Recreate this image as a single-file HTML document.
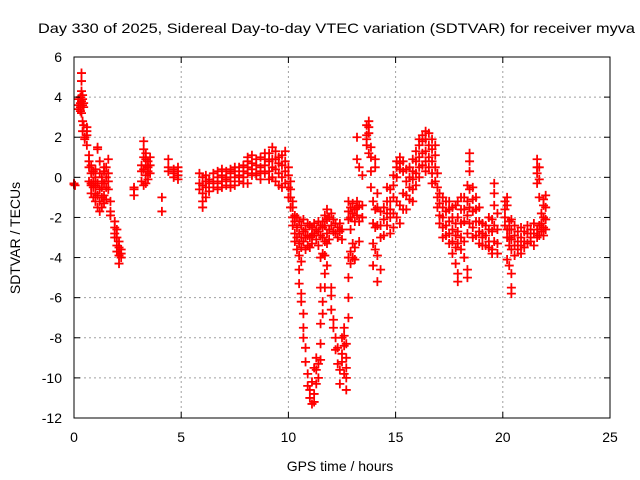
<!DOCTYPE html>
<html><head><meta charset="utf-8"><style>
body{margin:0;background:#fff}
svg{display:block;font-family:"Liberation Sans",sans-serif}
</style></head><body>
<svg id="chart" width="640" height="480" viewBox="0 0 640 480">
<rect width="640" height="480" fill="#fff"/>
<text x="38" y="33" font-size="14" textLength="597" lengthAdjust="spacingAndGlyphs">Day 330 of 2025, Sidereal Day-to-day VTEC variation (SDTVAR) for receiver myva</text>
<g id="grid"></g>
<g id="marks"></g>
<rect x="74" y="57" width="536" height="361" fill="none" stroke="#000" stroke-width="1"/>
<g id="axes"></g>
<text x="340" y="471" font-size="14" text-anchor="middle">GPS time / hours</text>
<text transform="translate(20,238) rotate(-90)" font-size="14" text-anchor="middle">SDTVAR / TECUs</text>
</svg>
<script>
const xTicks=[0,5,10,15,20,25];
const yTicks=[6,4,2,0,-2,-4,-6,-8,-10,-12];
const obs=[
[0.0,[-0.35,-0.3]],[0.05,[-0.4]],
[0.2,[3.9,3.4,3.6]],[0.3,[3.7,4.0,3.3,3.5]],[0.35,[4.3,4.8,5.2,3.8,3.2]],[0.4,[3.6,3.9,4.1,2.8,2.3]],[0.45,[3.5,3.7,2.6]],[0.5,[2.0,1.9]],
[0.6,[2.3,2.5,2.1,1.6]],[0.7,[1.1,0.8,0.5,-0.2]],[0.8,[0.2,-0.3,-0.8,-0.4,0.6]],[0.9,[0.3,-0.5,-1.0,-0.2]],[1.0,[0.4,-0.4,-1.2,-0.8,0]],
[1.1,[1.4,1.5,-0.3,-1.5,-0.9]],[1.2,[0.8,0.2,-0.6,-1.7,-1.2]],[1.3,[0,-0.5,-1.0,-1.5,-0.2]],[1.4,[0.5,-0.3,-0.9,-1.3,0.3]],[1.5,[0,-0.5,-1.1,0.5]],
[1.6,[-0.2,-0.6,0.2,0.9]],[1.7,[-1.7,-1.9,-1.2]],[1.9,[-2.5,-2.8,-3.0,-2.2]],[2.0,[-3.0,-3.4,-3.7,-2.6]],[2.1,[-3.5,-3.9,-4.3,-3.2]],[2.2,[-3.8,-3.6,-4.0]],
[2.8,[-0.5,-0.9,-0.6]],[3.15,[-0.2,0.3,0.6]],[3.25,[1.0,1.4,1.8,0.4,-0.4]],[3.35,[0.6,0.1,-0.3,0.9,1.2]],[3.45,[0.8,0.3,-0.1,0.5]],[3.55,[0.6,1.0,0.2]],
[4.1,[-1.0,-1.7]],[4.4,[0.9,0.5,0.3]],[4.65,[0.2,0,0.4]],[4.85,[0.1,0.5,-0.1,0.3]],
[5.85,[0.2,-0.3,-0.6]],[6.0,[-0.4,-0.8,-1.2,-1.5,0]],[6.15,[-0.5,-1.0,-0.2,0.1]],[6.3,[-0.3,-0.7,-0.1]],[6.5,[-0.2,0.2,-0.5]],
[6.7,[0,0.3,-0.3,-0.6]],[6.9,[0.1,0.4,-0.2,-0.5]],[7.1,[0,0.3,-0.4,-0.1]],[7.3,[0.2,-0.2,0.4,-0.5]],[7.5,[0.3,0,-0.4,0.5]],
[7.7,[0.1,0.5,-0.2]],[7.9,[0.3,0.6,0,-0.3]],[8.1,[0.5,0.8,0.2,1.0,-0.3]],[8.3,[0.4,0.7,1.1,0.1]],[8.5,[0.2,0.6,0.9,0.1]],
[8.7,[0.5,1.0,0.3,-0.1]],[8.9,[0.6,1.2,0.2,0.9]],[9.1,[0.3,0.8,1.2,-0.1]],[9.25,[1.5,0.9,0.5,0]],[9.4,[0.4,0.9,1.3,-0.2]],
[9.55,[0.2,0.7,1.0,-0.4]],[9.7,[0.6,1.1,0,-0.5]],[9.85,[0.8,1.3,0.3,-0.3]],[10.0,[0.5,0.1,-0.5,-1.0]],[10.1,[-0.6,-1.0,-1.5,-0.2]],
[10.2,[-1.5,-2.0,-2.4,-1.2]],[10.3,[-2.2,-2.8,-3.2,-1.9]],[10.4,[-2.5,-3.0,-3.6,-2.0]],[10.5,[-2.2,-2.8,-3.3,-3.9,-4.6,-5.3]],
[10.6,[-2.4,-3.0,-3.5,-4.2,-5.8,-6.2]],[10.7,[-2.7,-3.2,-2.1,-6.8,-7.5,-8.0]],[10.8,[-2.6,-3.0,-3.6,-8.5,-9.2]],[10.9,[-2.3,-2.9,-3.4,-9.8,-10.4]],
[11.0,[-2.4,-3.0,-3.5,-10.6,-11.0]],[11.1,[-2.5,-2.9,-3.3,-10.2,-11.3]],[11.2,[-2.3,-2.8,-9.5,-10.8,-11.2]],[11.3,[-2.6,-3.1,-9.0,-9.6,-10.3]],
[11.4,[-2.2,-2.7,-3.4,-9.3,-10.0]],[11.5,[-2.4,-2.9,-4.0,-5.5,-7.3,-8.3,-9.1]],[11.6,[-2.2,-2.5,-3.0,-3.8,-6.2,-6.8]],[11.7,[-1.9,-2.4,-3.2,-3.9,-4.8,-5.5]],
[11.8,[-1.6,-2.1,-2.8,-3.3,-4.4]],[11.9,[-2.0,-2.6,-3.1]],[12.0,[-1.8,-2.4,-5.5,-5.9,-6.6]],[12.1,[-2.1,-2.7,-7.1,-7.5]],[12.2,[-2.3,-2.8,-8.0,-8.6]],
[12.3,[-2.5,-3.0,-8.5,-9.3]],[12.4,[-2.3,-2.7,-9.6,-10.3]],[12.5,[-2.6,-3.1,-8.8,-9.2,-8.0]],[12.6,[-7.5,-7.9,-8.4,-9.8]],[12.7,[-8.3,-9.0,-9.5,-10.0,-10.6]],
[12.8,[-4.0,-5.0,-6.0,-7.0,-1.2,-1.7,-2.1]],[12.9,[-1.5,-2.0,-2.6,-3.7,-4.3]],[13.0,[-1.3,-1.8,-3.3,-4.0]],[13.1,[-1.6,-2.2,-3.5,-4.1]],
[13.2,[-1.5,-1.9,-1.2,2.0,0.9]],[13.3,[-1.4,-2.2,-3.2,0.5]],[13.45,[-1.4,-2.0,0.1]],[13.65,[1.6,2.1,2.6,1.9]],[13.75,[2.5,2.8,2.2,1.2]],
[13.85,[1.0,1.5,0.3,-0.5]],[13.95,[-1.2,-2.3,-3.3,-4.4]],[14.05,[-1.6,-2.5,-3.6,0.9,0.5]],[14.15,[-0.8,-1.5,-2.4,-3.9,-5.2]],[14.3,[-1.7,-2.4,-3.0,-4.6]],
[14.45,[-2.1,-2.9,-1.5]],[14.6,[-1.2,-1.8,-2.4,-0.5]],[14.75,[-0.6,-1.2,-2.0,-2.8,-1.6]],[14.9,[0.1,-0.4,-1.0,-1.8,-2.5]],[15.05,[0.5,0.8,0,-1.2,-2.0]],
[15.2,[0.7,1.0,0.4,-1.4,-2.3]],[15.35,[0.3,0.8,-0.8,-1.6]],[15.5,[-0.2,0.4,-0.9,-1.6]],[15.65,[0,0.5,-0.5,-1.1]],[15.8,[0.3,0.9,-0.1,-0.6,-1.2]],
[15.95,[0.8,1.3,0.2,-0.4]],[16.1,[1.0,1.6,1.9,0.5,0]],[16.25,[1.2,1.8,2.1,0.6]],[16.4,[1.3,1.9,2.3,0.8,0.3]],[16.55,[1.0,1.6,2.2,0.5]],
[16.7,[0.8,1.4,1.9,0.2,-0.3]],[16.85,[0.5,1.1,1.6,-0.2]],[16.95,[-0.5,-1.0,0.2,-1.5]],[17.05,[-1.3,-1.9,-2.3,-0.8]],[17.2,[-1.5,-2.0,-2.5,-1.0,-3.0]],
[17.35,[-1.2,-1.7,-2.4,-2.9]],[17.5,[-1.6,-2.2,-2.8,-3.3,-1.2]],[17.65,[-2.0,-2.6,-3.2,-3.8,-1.5]],[17.8,[-2.3,-2.9,-3.5,-4.3,-1.4]],
[17.9,[-2.0,-2.7,-3.3,-4.8,-5.2,-1.2]],[18.05,[-1.6,-2.3,-3.0,-3.6,-1.0]],[18.2,[-1.0,-1.6,-2.2,-3.2,-4.0]],[18.35,[-0.4,-1.2,-1.9,-2.8,-5.0,-4.6]],
[18.45,[0.3,0.8,1.2,-0.6,-1.5,-2.3]],[18.6,[-0.5,-1.1,-1.7,-2.5,-3.0]],[18.75,[-1.0,-1.6,-2.2,-2.9]],[18.9,[-1.5,-2.2,-2.7,-3.3]],
[19.05,[-2.3,-2.8,-3.4,-3.0]],[19.2,[-2.4,-2.9,-3.4]],[19.35,[-2.0,-2.6,-3.2,-3.5]],[19.5,[-2.1,-2.7,-3.6,-3.8]],[19.6,[-0.3,-0.8,-1.4,-2.4,-3.2]],
[19.75,[-2.6,-3.3,-3.8,-1.8]],[20.1,[-1.2,-1.6,-2.0,-2.4]],[20.2,[-1.0,-1.4,-2.6,-3.0,-4.1]],[20.3,[-2.2,-2.6,-3.0,-3.4,-4.4]],
[20.4,[-2.1,-2.6,-3.1,-3.6,-4.8,-5.5,-5.8]],[20.55,[-2.4,-2.9,-3.4,-3.9]],[20.7,[-2.7,-3.2,-3.6]],[20.85,[-2.5,-3.0,-3.4,-3.8]],
[21.0,[-2.7,-3.2,-3.5]],[21.15,[-2.4,-2.8,-3.3]],[21.3,[-2.6,-3.0,-3.2]],[21.45,[-2.8,-2.3,-3.4]],[21.6,[0.9,0.5,0.2,-0.3,-2.6,-3.0]],
[21.7,[0.5,-0.1,-1.0,-2.4,-2.9]],[21.8,[-1.8,-2.3,-2.7]],[21.9,[-1.4,-2.0,-2.5,-2.9,-1.1]],[22.0,[-0.9,-1.5,-2.1,-2.6]]
];
const NS='http://www.w3.org/2000/svg';
const X0=74,X1=610,Y0=418,Y1=57,XMIN=0,XMAX=25,YMIN=-12,YMAX=6;
function xs(v){return X0+(v-XMIN)/(XMAX-XMIN)*(X1-X0);}
function ys(v){return Y0-(v-YMIN)/(YMAX-YMIN)*(Y0-Y1);}
function mk(tag,attrs,parent){const e=document.createElementNS(NS,tag);for(const k in attrs)e.setAttribute(k,attrs[k]);parent.appendChild(e);return e;}
const grid=document.getElementById('grid'),axes=document.getElementById('axes'),marks=document.getElementById('marks');
xTicks.forEach(t=>{
  const x=xs(t);
  if(t>XMIN&&t<XMAX){const g=mk('line',{x1:x,x2:x,y1:Y0,y2:Y1,stroke:'#a0a0a0','stroke-dasharray':'2,3'},grid);
  
  }
  const a=mk('line',{x1:x,x2:x,y1:Y0,y2:Y0-6,stroke:'#000'},axes);
  
  
  const b=mk('line',{x1:x,x2:x,y1:Y1,y2:Y1+6,stroke:'#000'},axes);
  
  
  const l=mk('text',{x:x,y:Y0+24,'font-size':14,'text-anchor':'middle'},axes);l.textContent=t;
  
  
});
yTicks.forEach(t=>{
  const y=ys(t);
  if(t>YMIN&&t<YMAX){const g=mk('line',{x1:X0,x2:X1,y1:y,y2:y,stroke:'#a0a0a0','stroke-dasharray':'2,3'},grid);
  
  }
  const a=mk('line',{x1:X0,x2:X0+6,y1:y,y2:y,stroke:'#000'},axes);
  
  
  const b=mk('line',{x1:X1,x2:X1-6,y1:y,y2:y,stroke:'#000'},axes);
  
  
  const l=mk('text',{x:X0-12,y:y+5,'font-size':14,'text-anchor':'end'},axes);l.textContent=t;
  
  
});
obs.forEach(([t,vals])=>{
  vals.forEach(v=>{
    const x=xs(t),y=ys(v);
    const p=mk('path',{d:`M${x-4.5},${y}h9M${x},${y-4.5}v9`,stroke:'#ff0000','stroke-width':1.8,fill:'none'},marks);
    
    
  });
});
</script>
</body></html>
